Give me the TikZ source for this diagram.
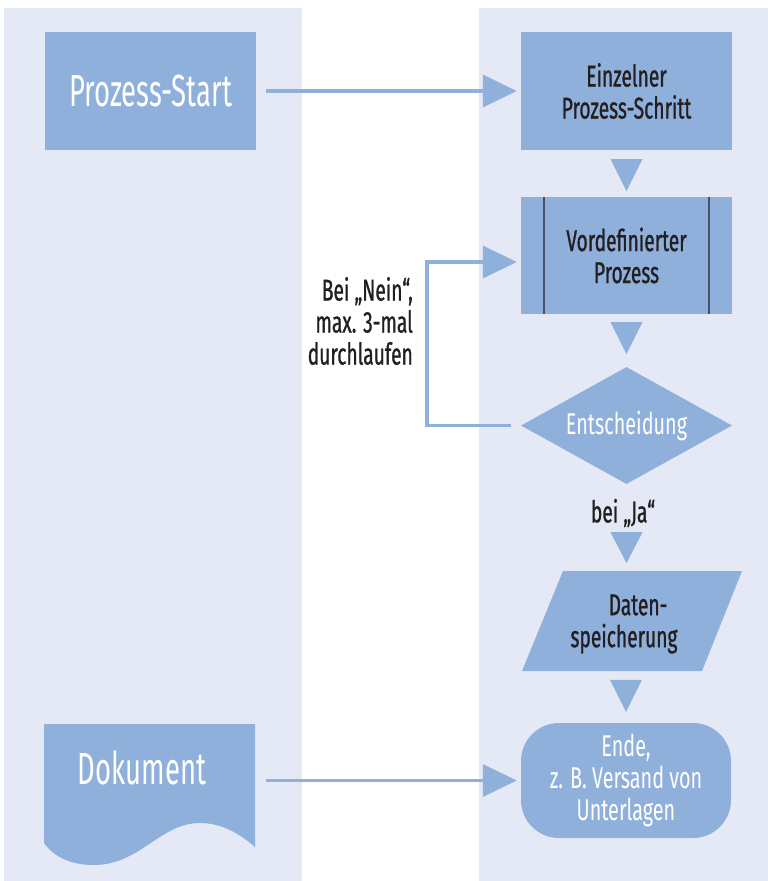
\documentclass[tikz,border=0pt]{standalone}
\usepackage{fontspec}
\setmainfont{Fira Sans}
\newfontfamily\flowsmall{Fira Sans}[FakeStretch=0.64,FakeBold=0.9]
\newfontfamily\flowlight{Fira Sans}[FakeStretch=0.66]
\newfontfamily\flowbig{Fira Sans}[FakeStretch=0.61]
\usetikzlibrary{shapes.geometric,arrows.meta,calc}
\definecolor{panelbg}{HTML}{E5E9F5}
\definecolor{shapefill}{HTML}{8FB0DB}
\definecolor{inkdark}{HTML}{231F20}
\definecolor{barline}{HTML}{4A5366}

\begin{document}
\begin{tikzpicture}[x=1pt,y=-1pt,
  panel/.style={fill=panelbg},
  boxnode/.style={rectangle, fill=shapefill, minimum width=211pt,
    minimum height=118pt, inner sep=0pt, align=center},
  smalltext/.style={font=\flowsmall\fontsize{30}{32}\selectfont,
    text=inkdark, inner sep=0pt},
  whitesmall/.style={font=\flowlight\fontsize{30}{32}\selectfont,
    text=white, inner sep=0pt},
  bigtext/.style={font=\flowbig\fontsize{45}{50}\selectfont,
    text=white, inner sep=0pt},
  flow/.style={draw=shapefill, line width=3.5pt,
    -{Triangle[length=34pt,width=32pt]}},
  marker/.style={fill=shapefill},
]
\useasboundingbox (0,0) rectangle (768,881);

% swimlane backgrounds
\fill[panel] (4,8) rectangle (302,881);
\fill[panel] (479,8) rectangle (768,881);

% left lane
\node[boxnode, bigtext] (start) at (150.5,91) {Prozess-Start};

\fill[shapefill] (44,724) -- (255,724) -- (255,847)
  .. controls (240,834) and (222,823) .. (200,823)
  .. controls (160,823) and (140,865) .. (94,865)
  .. controls (72,865) and (55,858) .. (44,843) -- cycle;
\node[bigtext] (doc) at (142,768) {Dokument};
\coordinate (docout) at (256,780.5);

% right lane
\node[boxnode, smalltext] (step) at (626.5,91) {Einzelner\\Prozess-Schritt};

\node[boxnode, smalltext, minimum height=117pt] (predef) at (626.5,255.5)
  {Vordefinierter\\Prozess};
\draw[barline, line width=2pt] ([xshift=23pt]predef.north west)
  -- ([xshift=23pt]predef.south west);
\draw[barline, line width=2pt] ([xshift=-23pt]predef.north east)
  -- ([xshift=-23pt]predef.south east);

\node[diamond, aspect=2, fill=shapefill, minimum width=211pt,
  minimum height=117pt, whitesmall] (decide) at (626.5,425.5) {Entscheidung};

\node[smalltext] (yes) at (623,513) {bei „Ja“};

\fill[shapefill] (563,571) -- (742,571) -- (702,671) -- (522,671) -- cycle;
\node[smalltext, align=center] (store) at (624,624)
  {\hspace*{28pt}Daten-\\speicherung};

\node[boxnode, whitesmall, rounded corners=38pt, minimum width=210pt,
  minimum height=115pt] (ende) at (626,780.5)
  {Ende,\\z. B. Versand von\\Unterlagen};

% flow markers between the steps
\fill[marker] ($(step.south)+(-16,9)$) -- ++(32,0) -- ++(-16,32) -- cycle;
\fill[marker] ($(predef.south)+(-16,8)$) -- ++(32,0) -- ++(-16,32) -- cycle;
\fill[marker] ($(decide.south)+(-16,48)$) -- ++(32,0) -- ++(-16,31) -- cycle;
\fill[marker] ($(ende.north)+(-16,-43)$) -- ++(32,0) -- ++(-16,32) -- cycle;

% connectors
\draw[flow, shorten <=10pt, shorten >=4pt] (start.east) -- (step.west);
\draw[flow, shorten <=10pt, shorten >=4pt] (docout) -- (ende.west);
\draw[flow, shorten <=10pt, shorten >=4pt] (decide.west) -- ++(-94,0)
  |- ([yshift=-6.5pt]predef.west);

\node[smalltext, align=right, anchor=east] (nolabel) at (413,321)
  {Bei „Nein“,\\max. 3-mal\\durchlaufen};
\end{tikzpicture}
\end{document}
